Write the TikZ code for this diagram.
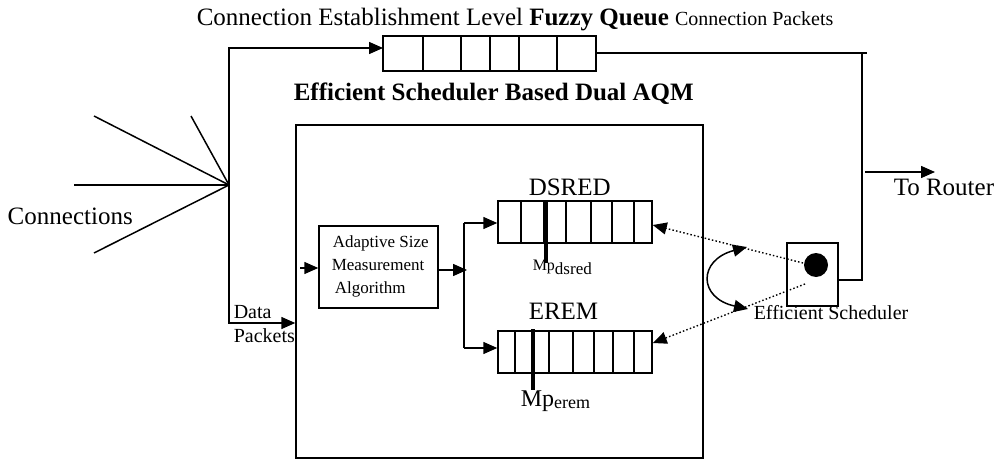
\documentclass[tikz,border=0pt]{standalone}
\usepackage{fontspec}
\setmainfont{Liberation Serif}
\usetikzlibrary{arrows.meta}
\newcommand{\fs}[1]{\fontsize{#1}{#1}\selectfont}
\begin{document}
\begin{tikzpicture}[x=1pt,y=-1pt,line width=1.5pt,
  tipx/.tip={Triangle[length=14pt,width=12pt]},
  arr/.style={-tipx},
  lbl/.style={inner sep=0pt,anchor=base west},
  dots/.style={dash pattern=on 1.5pt off 2.2pt,line width=1.4pt}]
\useasboundingbox (0,0) rectangle (997,460);
% titles
\node[lbl] (title) at (196,26) {\fs{25}Connection Establishment Level \textbf{Fuzzy Queue} {\fs{20}Connection Packets}};
\node[lbl] (aqm) at (293,101) {\fs{25}\textbf{Efficient Scheduler Based Dual AQM}};
% top queue
\node[draw,inner sep=0pt,minimum width=213pt,minimum height=35pt] (topq) at (489.5,53.5) {};
\foreach \x in {423,461,490,519,557} \draw (\x,36) -- (\x,71);
% fan
\coordinate (hub) at (229,185);
\coordinate (f1) at (94,116);
\coordinate (f2) at (191,116);
\coordinate (f3) at (74,185);
\coordinate (f4) at (94,253);
\foreach \f in {f1,f2,f3,f4} \draw (\f) -- (hub);
\node[lbl] (conn) at (7,224) {\fs{25}Connections};
% big box
\node[draw,inner sep=0pt,minimum width=407pt,minimum height=333pt] (big) at (499.5,291.5) {};
% left trunk
\coordinate (c1) at (229,48);
\coordinate (qin) at (383,48);
\coordinate (c2) at (229,323);
\draw[arr] (hub) -- (c1) -- (qin);
\draw[arr] (hub) -- (c2) -- (big.west |- c2);
\node[lbl] (data) at (233,318) {\fs{20}Data};
\node[lbl] (pack) at (233,342) {\fs{20}Packets};
% adaptive box
\node[draw,inner sep=0pt,minimum width=119pt,minimum height=82pt] (adapt) at (378.5,267) {};
\node[lbl] (a1) at (332,247) {\fs{17}Adaptive Size};
\node[lbl] (a2) at (331,270) {\fs{17}Measurement};
\node[lbl] (a3) at (334,293) {\fs{17}Algorithm};
\coordinate (ain) at (300,268);
\draw[arr] (ain) -- (adapt.west |- ain);
\coordinate (aout) at (467,270);
\draw[arr] (adapt.east |- aout) -- (aout);
% queues
\node[draw,inner sep=0pt,minimum width=154pt,minimum height=42pt] (dsred) at (575,222) {};
\foreach \x in {521,544,566,591,612,634} \draw (\x,201) -- (\x,243);
\node[draw,inner sep=0pt,minimum width=154pt,minimum height=42pt] (erem) at (575,352) {};
\foreach \x in {515,549,573,594,613,634} \draw (\x,331) -- (\x,373);
\coordinate (s1) at (464,223);
\coordinate (s2) at (464,348);
\draw (s1) -- (s2);
\draw[arr] (s1) -- (dsred.west |- s1);
\draw[arr] (s2) -- (erem.west |- s2);
\node[lbl] (dl) at (528,195) {\fs{25}DSRED};
\node[lbl] (el) at (528,319) {\fs{25}EREM};
% markers
\coordinate (m1) at (546,263);
\coordinate (m2) at (533,390);
\draw[line width=3.5pt] (546,201) -- (m1);
\draw[line width=3.5pt] (533,329) -- (m2);
\node[lbl] (mpd) at (532,270) {\fs{16}Mp\raisebox{-4pt}{\fs{17}dsred}};
\node[lbl] (mpe) at (520,406) {\fs{24}Mp\raisebox{-2pt}{\fs{18}erem}};
% scheduler
\node[draw,inner sep=0pt,minimum width=51pt,minimum height=63pt] (sched) at (812.5,274.5) {};
\node[circle,fill,inner sep=0pt,minimum size=24pt] (dot) at (816,265) {};
\node[lbl] (sl) at (753,319) {\fs{20}Efficient Scheduler};
\coordinate (d1) at (803,263);
\coordinate (d2) at (805,284);
\draw[dots,arr] (d1) -- (dsred.east |- 0,225);
\draw[dots,arr] (d2) -- (erem.east |- 0,343);
% curved double arrow
\coordinate (ct) at (747,247);
\coordinate (cb) at (748,309);
\draw[tipx-tipx] (ct) .. controls (698,260) and (698,298) .. (cb);
% right output
\coordinate (r1) at (867,53);
\coordinate (r2) at (862,53);
\coordinate (r3) at (862,280);
\draw (topq.east |- r1) -- (r1);
\draw (r2) -- (r3) -- (sched.east |- r3);
\coordinate (t1) at (865,172);
\coordinate (t2) at (935,172);
\draw[arr] (t1) -- (t2);
\node[lbl] (tr) at (893,195) {\fs{25}To Router};
\end{tikzpicture}
\end{document}
